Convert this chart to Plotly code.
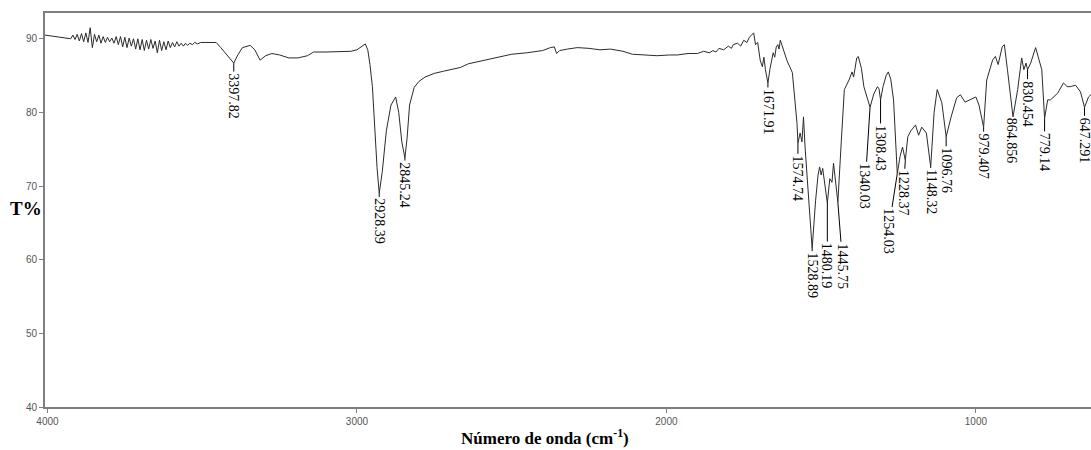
import plotly.graph_objects as go

# Espectro IR: número de onda (cm-1) y transmitancia (%)
# Zona ruidosa 4000-3550
onda_ruido = [4008, 3990, 3970, 3950, 3935,
              3925, 3918, 3911, 3904, 3897, 3890, 3883, 3876, 3869, 3862,
              3855, 3848, 3841, 3834, 3827, 3820, 3813, 3806, 3799, 3792,
              3785, 3778, 3771, 3764, 3757, 3750, 3743, 3736, 3729, 3722,
              3715, 3708, 3701, 3694, 3687, 3680, 3673, 3666, 3659, 3652,
              3645, 3638, 3631, 3624, 3617, 3610, 3603, 3596, 3589, 3582,
              3575, 3568, 3561, 3554]
t_ruido = [90.5, 90.4, 90.3, 90.2, 90.1,
           90.0, 90.5, 89.9, 90.6, 89.7, 90.7, 89.6, 90.8, 89.5, 91.5,
           88.8, 90.6, 89.6, 90.5, 89.4, 90.3, 89.5, 90.2, 89.6, 90.1,
           89.4, 90.3, 89.2, 90.3, 88.9, 90.2, 88.8, 90.1, 89.0, 90.0,
           88.6, 90.0, 88.5, 89.9, 88.4, 89.8, 88.6, 89.9, 88.7, 89.7,
           88.1, 89.8, 88.4, 89.6, 88.5, 89.7, 88.8, 89.5, 88.9, 89.6,
           89.0, 89.4, 89.0, 89.4]

# Resto del espectro 3550-626
onda_bandas = [3547, 3540, 3532, 3524, 3515, 3505, 3490, 3470, 3455, 3440, 3420,
               3398, 3385, 3370, 3345, 3330, 3313, 3295, 3275, 3250, 3220, 3190, 3160, 3140, 3100,
               3060, 3020, 3000, 2985, 2973, 2965, 2958, 2950, 2943, 2935, 2928, 2918, 2905, 2890,
               2875, 2865, 2855, 2845, 2838, 2830, 2815, 2800, 2780, 2750, 2720, 2700, 2666, 2640,
               2600, 2560, 2500, 2450, 2400, 2375, 2362, 2355, 2345, 2320, 2288, 2250, 2215, 2181,
               2140, 2110, 2075, 2030, 1990, 1965, 1930, 1900, 1880, 1860, 1850, 1840, 1830, 1815,
               1800, 1790, 1784, 1770, 1760, 1750, 1740, 1732, 1725, 1718, 1712, 1705, 1697, 1690,
               1685, 1680, 1672, 1665, 1655, 1650, 1645, 1640, 1636, 1632, 1628, 1620, 1610, 1593,
               1585, 1578, 1575, 1568, 1562, 1557, 1552, 1540, 1529, 1518, 1510, 1505, 1500, 1495,
               1488, 1480, 1472, 1465, 1460, 1452, 1446, 1435, 1425, 1410, 1400, 1395, 1385, 1380,
               1370, 1362, 1352, 1342, 1330, 1318, 1313, 1308, 1300, 1290, 1283, 1275, 1266, 1260,
               1254, 1245, 1237, 1233, 1228, 1220, 1210, 1195, 1185, 1175, 1160, 1146, 1135, 1125,
               1110, 1096, 1080, 1062, 1050, 1035, 1020, 1000, 990, 975, 965, 955, 946, 937,
               928, 915, 908, 898, 890, 880, 865, 857, 852, 845, 838, 833, 823, 807,
               795, 787, 778, 768, 759, 736, 717, 705, 694, 678, 662, 649, 636, 626]
t_bandas = [89.1, 89.4, 89.2, 89.5, 89.3, 89.5, 89.5, 89.6, 89.5, 88.8, 87.8,
            86.7, 87.8, 88.8, 89.1, 88.5, 87.1, 87.7, 88.0, 87.8, 87.4, 87.4, 87.7, 88.2, 88.2,
            88.3, 88.3, 88.5, 89.0, 89.3, 88.5, 86.5, 83.5, 78.0, 72.5, 69.0, 72.0, 77.5, 81.0,
            82.1, 80.0, 76.0, 73.8, 76.5, 81.0, 83.4, 84.2, 84.8, 85.3, 85.6, 85.8, 86.1, 86.6,
            87.0, 87.4, 87.9, 88.1, 88.4, 88.8, 88.9, 88.0, 88.4, 88.6, 88.8, 88.7, 88.5, 88.6,
            88.3, 87.9, 87.8, 87.7, 87.8, 87.8, 88.0, 88.0, 88.3, 88.1, 88.4, 88.2, 88.7, 88.5,
            89.0, 88.7, 89.2, 89.4, 89.0, 89.8, 89.5, 90.2, 90.5, 90.8, 89.2, 89.5, 87.1, 86.2,
            87.5, 85.8, 84.0, 86.0, 88.1, 87.5, 88.9, 89.2, 88.6, 89.8, 89.3, 88.2, 87.0, 85.4,
            82.0, 78.5, 75.8, 77.2, 76.0, 79.4, 75.3, 68.0, 61.5, 68.0, 71.5, 72.6, 71.5, 72.4,
            70.0, 67.7, 71.0, 70.5, 73.1, 70.0, 67.8, 76.0, 83.1, 84.4, 85.5, 84.8, 87.4, 87.6,
            86.0, 83.5, 82.0, 80.7, 82.5, 83.5, 83.2, 81.7, 83.5, 85.0, 85.5, 84.5, 81.7, 76.0,
            71.7, 74.0, 75.3, 74.5, 73.5, 76.7, 77.5, 78.3, 76.9, 78.0, 77.2, 72.6, 80.0, 83.1,
            81.3, 76.7, 79.4, 82.0, 82.4, 81.4, 81.7, 82.1, 81.0, 78.0, 84.4, 85.8, 87.1, 87.6,
            86.5, 88.9, 89.2, 85.8, 83.0, 79.4, 83.1, 85.8, 87.4, 85.8, 86.7, 85.8, 86.7, 88.8,
            87.0, 85.8, 79.2, 81.7, 81.7, 82.6, 84.0, 83.5, 83.5, 83.7, 82.8, 80.7, 82.1, 82.5]

numero_onda = onda_ruido + onda_bandas
transmitancia = t_ruido + t_bandas
assert len(numero_onda) == len(transmitancia)

# Etiquetas de picos: texto, posición en x, valor de T y desplazamiento del texto (px)
etiquetas_picos = ['3397.82', '2928.39', '2845.24', '1671.91', '1574.74', '1528.89', '1480.19',
                   '1445.75', '1340.03', '1308.43', '1254.03', '1228.37', '1148.32', '1096.76',
                   '979.407', '864.856', '830.454', '779.14', '647.291']
x_picos = [3398, 2928, 2845, 1672, 1575, 1529, 1480, 1446, 1342, 1308, 1254, 1228, 1146, 1096,
           975, 880, 833, 778, 649]
y_picos = [86.7, 69.0, 73.8, 84.0, 75.8, 61.5, 67.7, 67.8, 80.7, 81.7, 71.7, 73.5, 72.6, 76.7,
           78.0, 79.4, 85.8, 79.2, 80.7]
dx_picos = [0, 0, 0, 0, 0, 0, 0, 5, -5, 0, -9, -2, 0, 0, 0, -2, 0, 0, 0]
dy_picos = [33, 28, 27, 29, 35, 27, 63, 64, 79, 48, 58, 33, 25, 34, 29, 24, 34, 34, 33]

fig = go.Figure()

fig.add_trace(go.Scatter(x=numero_onda, y=transmitancia, mode='lines',
                         line=dict(color='#2b2b2b', width=1), showlegend=False))

# Etiquetas verticales de los picos
for texto, xp, yp, dx, dy in zip(etiquetas_picos, x_picos, y_picos, dx_picos, dy_picos):
    fig.add_annotation(x=xp, y=yp, text=texto, textangle=90,
                       showarrow=True, arrowhead=0, arrowwidth=1, arrowcolor='black',
                       standoff=0, ax=dx, ay=dy,
                       font=dict(family='Liberation Serif', size=14, color='black'))

# Títulos de los ejes
fig.add_annotation(xref='paper', yref='paper', x=-0.018, y=0.505, xanchor='center',
                   text='<b>T%</b>',
                   showarrow=False, font=dict(family='Liberation Serif', size=19, color='black'))
fig.add_annotation(xref='paper', yref='paper', x=0.478, y=-0.076, xanchor='center',
                   yanchor='middle', text='<b>Número de onda (cm<sup>-1</sup>)</b>',
                   showarrow=False, font=dict(family='Liberation Serif', size=17, color='black'))

fig.update_layout(width=1091, height=450,
                  margin=dict(l=45, r=0, t=13, b=43, autoexpand=False),
                  plot_bgcolor='white', paper_bgcolor='white',
                  font=dict(family='Liberation Sans', size=10, color='#555555'))

fig.update_xaxes(range=[4008, 628], tickvals=[4000, 3000, 2000, 1000],
                 showgrid=False, zeroline=False,
                 showline=True, linecolor='#7f7f7f', linewidth=2, mirror=True,
                 ticks='outside', ticklen=4, tickcolor='#7f7f7f')
fig.update_yaxes(range=[40, 93.5], tickvals=[40, 50, 60, 70, 80, 90],
                 showgrid=False, zeroline=False,
                 showline=True, linecolor='#7f7f7f', linewidth=2,
                 ticks='outside', ticklen=4, tickcolor='#7f7f7f')

# Quitar el margen por defecto de la página para que la figura ocupe toda la ventana
fig.write_html("out.html", config={'displayModeBar': False},
               post_script="document.body.style.margin='0';")
